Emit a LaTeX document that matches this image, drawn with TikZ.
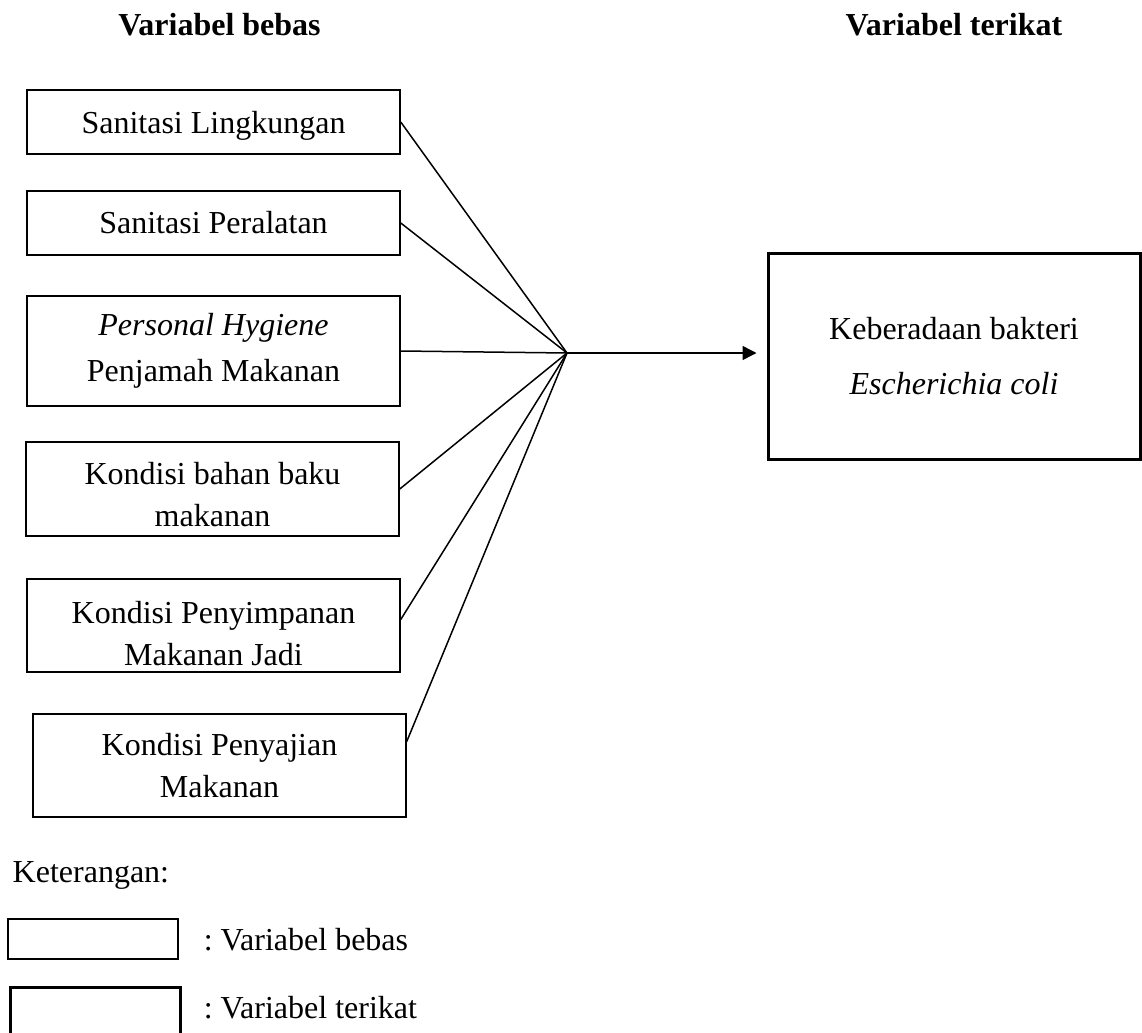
\documentclass[tikz,border=0pt]{standalone}
\usepackage{fontspec}
\setmainfont{Liberation Serif}
\usetikzlibrary{positioning, arrows.meta}
\usetikzlibrary{calc}
\frenchspacing
\newcommand{\dn}[1]{\rule{0pt}{#1}}

\begin{document}
\begin{tikzpicture}[x=0.5pt, y=-0.5pt, line width=0.75pt,
    font=\fontsize{16}{21}\selectfont,
    bebas/.style={draw, rectangle, minimum width=186.5pt, align=center, inner sep=0pt},
    terikat/.style={draw, rectangle, line width=1.5pt, minimum width=186pt, minimum height=103pt, align=center, inner sep=0pt},
    head/.style={font=\fontsize{16}{21}\selectfont\bfseries, inner sep=0pt, anchor=base},
    txt/.style={inner sep=0pt, anchor=base west}]
    \useasboundingbox (0,0) rectangle (1142,1033);

    \node[head] (hb) at (219.5,35) {Variabel bebas};
    \node[head] (ht) at (954,35) {Variabel terikat};

    \node[bebas, minimum height=32pt] (s1) at (213.5,122) {\dn{15.4pt}Sanitasi Lingkungan};
    \node[bebas, minimum height=32pt] (s2) at (213.5,223) {Sanitasi Peralatan};
    \node[bebas, minimum height=55pt] (s3) at (213.5,351) {\textit{Personal Hygiene}\\[2pt]Penjamah Makanan};
    \node[bebas, minimum height=47pt] (s4) at (212.5,489) {\dn{16.4pt}Kondisi bahan baku\\makanan};
    \node[bebas, minimum height=46.5pt] (s5) at (213.5,625.5) {\dn{19pt}Kondisi Penyimpanan\\Makanan Jadi};
    \node[bebas, minimum height=51.5pt] (s6) at (219.5,765.5) {Kondisi Penyajian\\Makanan};

    \node[terikat] (ec) at (954,356) {Keberadaan bakteri\\[6.5pt]\textit{Escherichia coli}};

    \coordinate (jn) at (567,353);
    \draw (s1.east) -- (jn);
    \draw (s2.east) -- (jn);
    \draw (s3.east) -- (jn);
    \draw (s4.east) -- (jn);
    \draw ([yshift=3pt]s5.east) -- (jn);
    \draw ([yshift=12pt]s6.east) -- (jn);
    \draw[-{Triangle[length=7pt, width=7pt]}, shorten >=5pt] (jn) -- (jn -| ec.west);

    % keterangan
    \node[txt] (ket) at (12,882) {Keterangan:};
    \node[draw, minimum width=85pt, minimum height=20pt, inner sep=0pt] (lb) at (93,939) {};
    \node[txt] (lbt) at (203,950) {: Variabel bebas};
    \node[draw, line width=1.5pt, minimum width=85pt, minimum height=29pt, inner sep=0pt] (lt) at (95.5,1016) {};
    \node[txt] (ltt) at (203,1018) {: Variabel terikat};
\end{tikzpicture}
\end{document}
